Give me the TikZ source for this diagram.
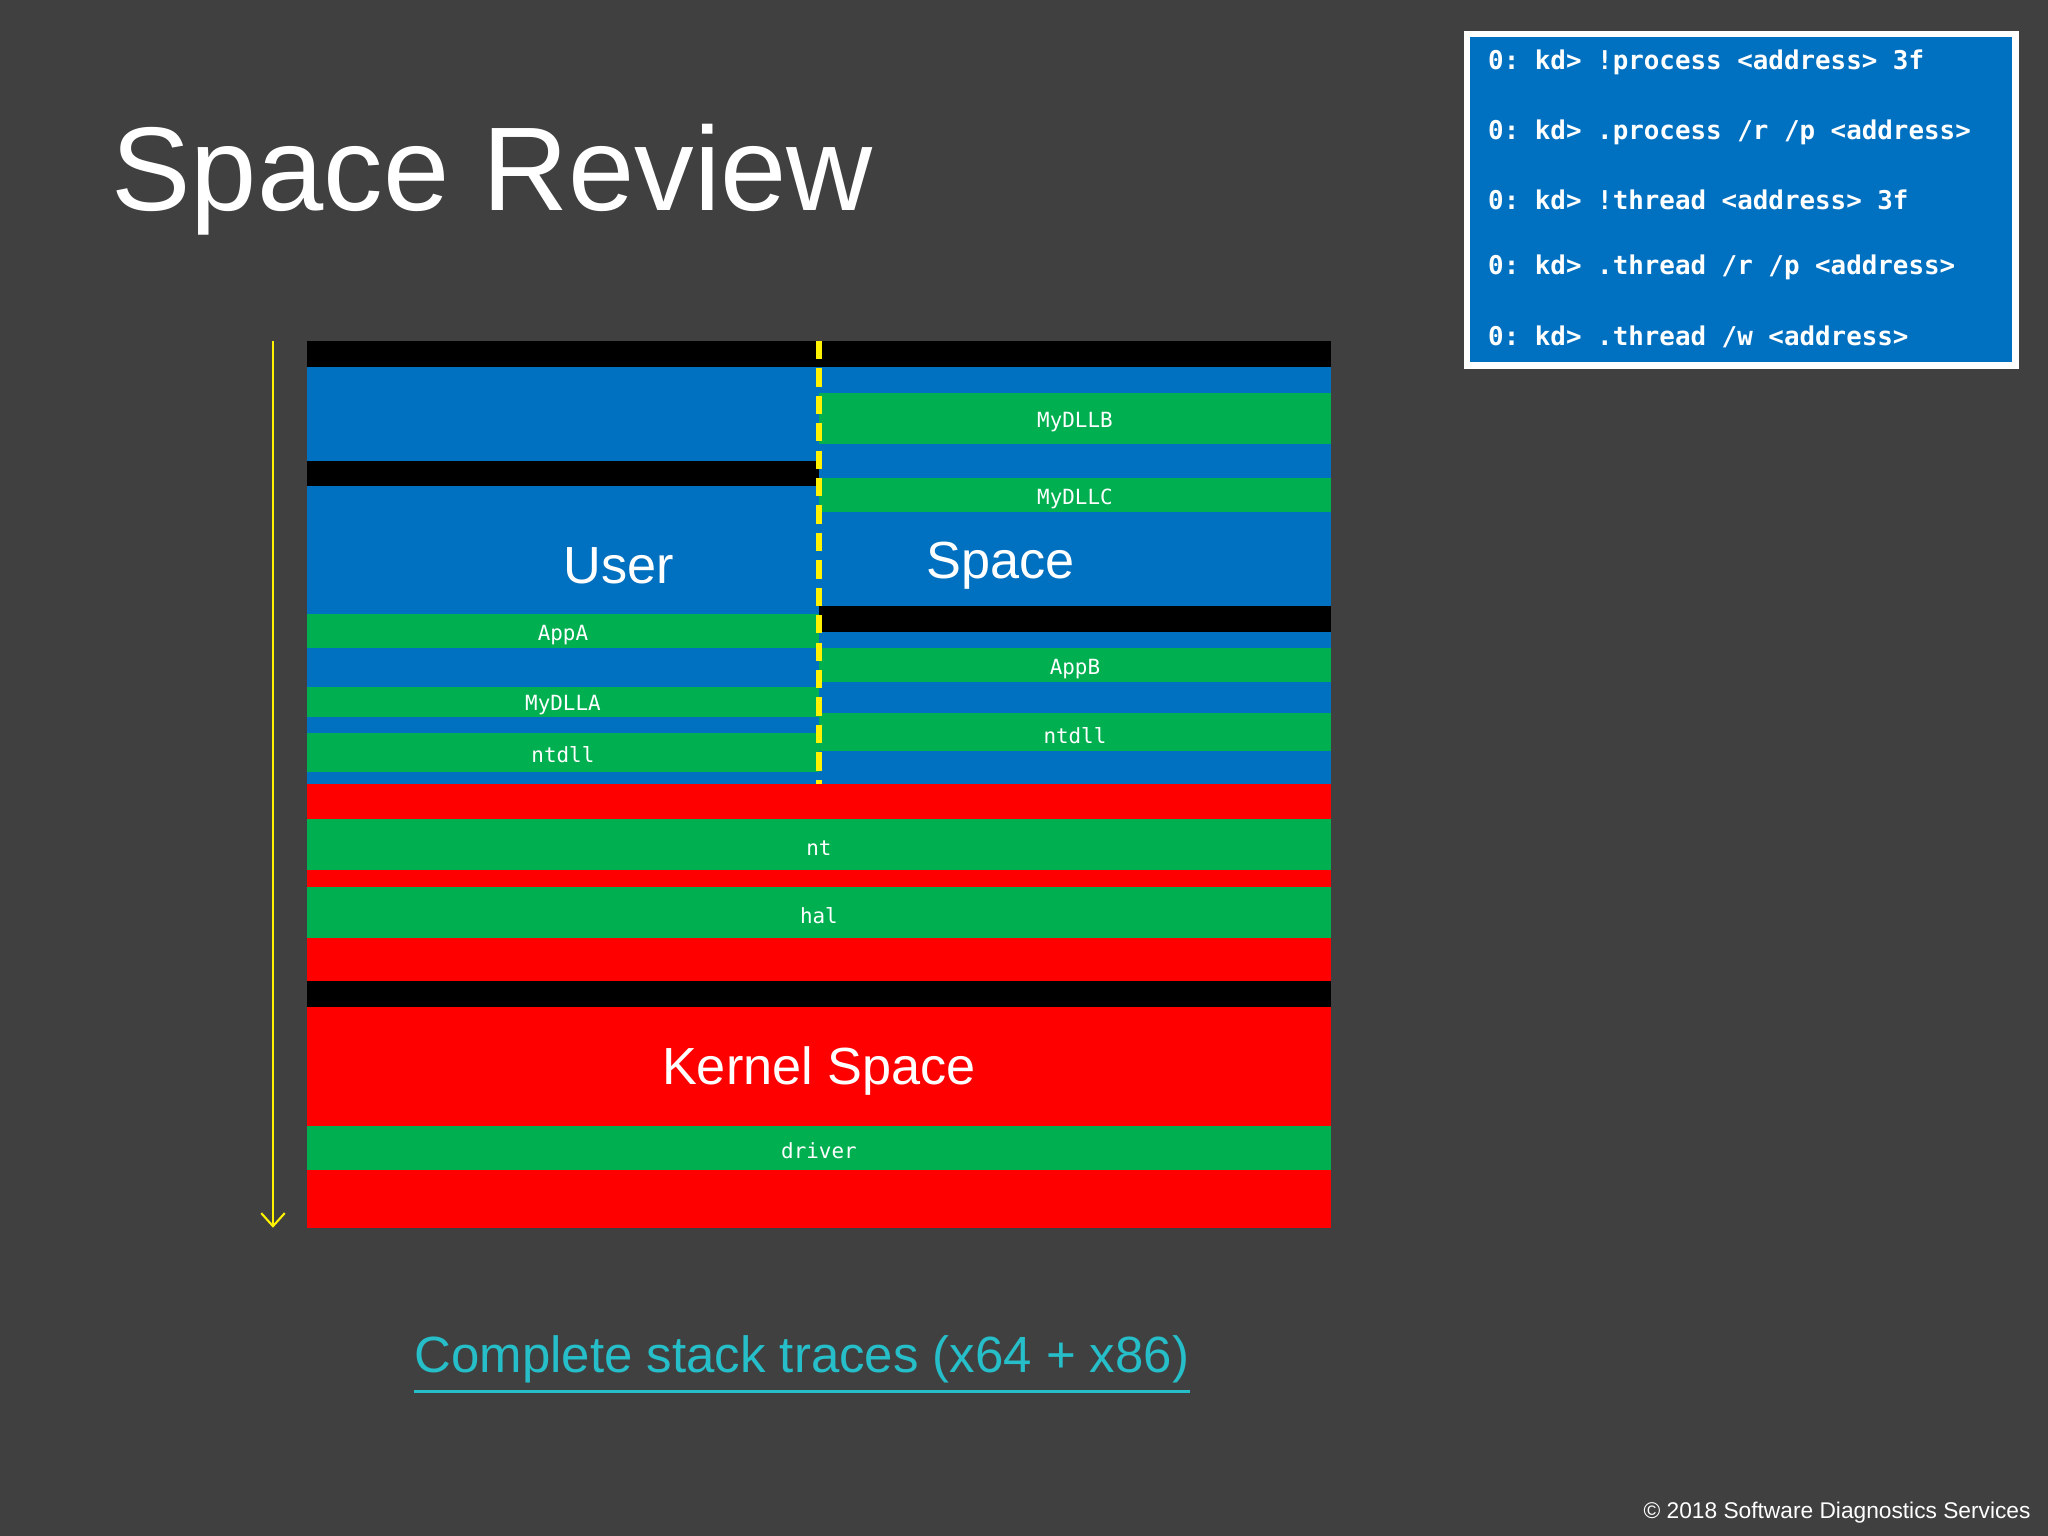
\documentclass[tikz,border=0pt]{standalone}
\usepackage{fontspec}
\setmainfont{Liberation Sans}
\setmonofont{DejaVu Sans Mono}
\usetikzlibrary{arrows.meta}
\definecolor{bg}{RGB}{64,64,64}
\definecolor{mblue}{RGB}{0,112,192}
\definecolor{mgreen}{RGB}{0,176,80}
\definecolor{mred}{RGB}{255,0,0}
\definecolor{mlink}{RGB}{38,190,200}
\tikzset{lbl/.style={text=white,font=\ttfamily\fontsize{8}{9}\selectfont,inner sep=0,yshift=-1pt},
 big/.style={text=white,font=\fontsize{20}{24}\selectfont,inner sep=0},
 code/.style={text=white,font=\ttfamily\bfseries\fontsize{9.9}{11}\selectfont,anchor=west,inner sep=0}}
\newcommand{\rb}[5]{\fill[#5] (#1,#2) rectangle (#3,#4);}
\begin{document}
\begin{tikzpicture}[x=0.5pt,y=-0.5pt]
\fill[bg] (0,0) rectangle (1568,1176);
% left column
\rb{235}{261}{627}{281}{black}
\rb{235}{281}{627}{353}{mblue}
\rb{235}{353}{627}{372}{black}
\rb{235}{372}{627}{470}{mblue}
\rb{235}{470}{627}{496}{mgreen}
\rb{235}{496}{627}{526}{mblue}
\rb{235}{526}{627}{549}{mgreen}
\rb{235}{549}{627}{561}{mblue}
\rb{235}{561}{627}{591}{mgreen}
\rb{235}{591}{627}{600}{mblue}
% right column
\rb{627}{261}{1019}{281}{black}
\rb{627}{281}{1019}{301}{mblue}
\rb{627}{301}{1019}{340}{mgreen}
\rb{627}{340}{1019}{366}{mblue}
\rb{627}{366}{1019}{392}{mgreen}
\rb{627}{392}{1019}{464}{mblue}
\rb{627}{464}{1019}{484}{black}
\rb{627}{484}{1019}{496}{mblue}
\rb{627}{496}{1019}{522}{mgreen}
\rb{627}{522}{1019}{546}{mblue}
\rb{627}{546}{1019}{575}{mgreen}
\rb{627}{575}{1019}{600}{mblue}
% full width
\rb{235}{600}{1019}{627}{mred}
\rb{235}{627}{1019}{666}{mgreen}
\rb{235}{666}{1019}{679}{mred}
\rb{235}{679}{1019}{718}{mgreen}
\rb{235}{718}{1019}{751}{mred}
\rb{235}{751}{1019}{771}{black}
\rb{235}{771}{1019}{862}{mred}
\rb{235}{862}{1019}{896}{mgreen}
\rb{235}{896}{1019}{940}{mred}
% labels
\node[lbl] (appa) at (431,484) {AppA};
\node[lbl] (mydlla) at (431,538) {MyDLLA};
\node[lbl] (ntdlla) at (431,576) {ntdll};
\node[lbl] (mydllb) at (823,321) {MyDLLB};
\node[lbl] (mydllc) at (823,380) {MyDLLC};
\node[lbl] (appb) at (823,510) {AppB};
\node[lbl] (ntdllb) at (823,561) {ntdll};
\node[lbl] (nt) at (627,647) {nt};
\node[lbl] (hal) at (627,699) {hal};
\node[lbl] (driver) at (627,879) {driver};
\node[big] (user) at (474,433) {User};
\node[big] (space) at (766,433) {Space};
\node[big] (kernel) at (627,820) {Kernel Space};
% dashed divider
\coordinate (dt) at (627,261); \coordinate (db) at (627,600);
\draw[yellow,line width=2pt,dash pattern=on 7pt off 3.5pt] (dt) -- (db);
% arrow
\coordinate (at) at (209,261); \coordinate (ab) at (209,940);
\draw[yellow,line width=0.8pt,-{Straight Barb[length=5pt,width=9pt]}] (at) -- (ab);
% title
\node[text=white,font=\fontsize{45.6}{54}\selectfont,anchor=base west,inner sep=0] (title) at (85,161) {Space Review};
% code box
\draw[white,fill=mblue,line width=2.5pt] (1123,26) rectangle (1543,280);
\node[code] (c1) at (1139,48) {0: kd> !process <address> 3f};
\node[code] (c2) at (1139,101) {0: kd> .process /r /p <address>};
\node[code] (c3) at (1139,153) {0: kd> !thread <address> 3f};
\node[code] (c4) at (1139,205) {0: kd> .thread /r /p <address>};
\node[code] (c5) at (1139,258) {0: kd> .thread /w <address>};
% link
\node[text=mlink,font=\fontsize{19.5}{22}\selectfont,inner sep=0] (link) at (614,1041) {Complete stack traces (x64 + x86)};
\draw[mlink,line width=1pt] ([yshift=-3pt]link.south west) -- ([yshift=-3pt]link.south east);
\node[text=white,font=\fontsize{8.7}{10}\selectfont,anchor=east,inner sep=0] (copy) at (1555,1158) {© 2018 Software Diagnostics Services};
\end{tikzpicture}
\end{document}
